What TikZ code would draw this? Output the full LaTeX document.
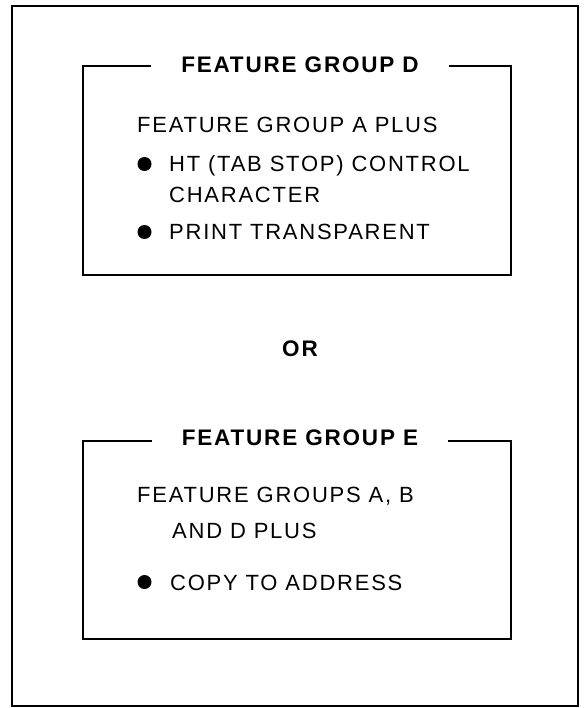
\documentclass[tikz,border=0pt]{standalone}
\usepackage{fontspec}
\setmainfont{Liberation Sans}[LetterSpace=8]
\tikzset{
  groupbox/.style={draw,line width=2.4pt,minimum width=428pt,inner sep=0pt},
  grouptitle/.style={fill=white,font=\fontsize{22.5}{26}\selectfont\bfseries,inner xsep=30pt,inner ysep=3pt,anchor=base},
  itemtext/.style={font=\fontsize{22}{26}\selectfont,inner sep=0pt,anchor=base west},
  dot/.style={circle,fill,inner sep=0pt,minimum size=14pt}
}
\begin{document}
\begin{tikzpicture}[x=1pt,y=-1pt]
	\useasboundingbox (0,0) rectangle (584,708);
	\draw[line width=2.2pt] (12,6) rectangle (578,706);
	% feature group D
	\node[groupbox,minimum height=209pt] (boxD) at (297,170.5) {};
	\node[grouptitle] (titleD) at (300,73) {FEATURE GROUP D};
	\node[itemtext] (plusA) at (137,133) {FEATURE GROUP A PLUS};
	\node[dot] (dotHT) at (144.5,164) {};
	\node[itemtext] (itemHT) at (169,172) {HT (TAB STOP) CONTROL};
	\node[itemtext] (itemHTb) at (169,203) {CHARACTER};
	\node[dot] (dotPT) at (144.5,232) {};
	\node[itemtext] (itemPT) at (169,240) {PRINT TRANSPARENT};
	% or
	\node[font=\fontsize{22.5}{26}\selectfont\bfseries,inner sep=0pt,anchor=base] (or) at (300,356) {OR};
	% feature group E
	\node[groupbox,minimum height=198pt] (boxE) at (297,540) {};
	\node[grouptitle] (titleE) at (300,445.5) {FEATURE GROUP E};
	\node[itemtext] (plusABD) at (137,502) {FEATURE GROUPS A, B};
	\node[itemtext] (plusABDb) at (172,538) {AND D PLUS};
	\node[dot] (dotCA) at (144.5,582) {};
	\node[itemtext] (itemCA) at (170,590) {COPY TO ADDRESS};
\end{tikzpicture}
\end{document}
